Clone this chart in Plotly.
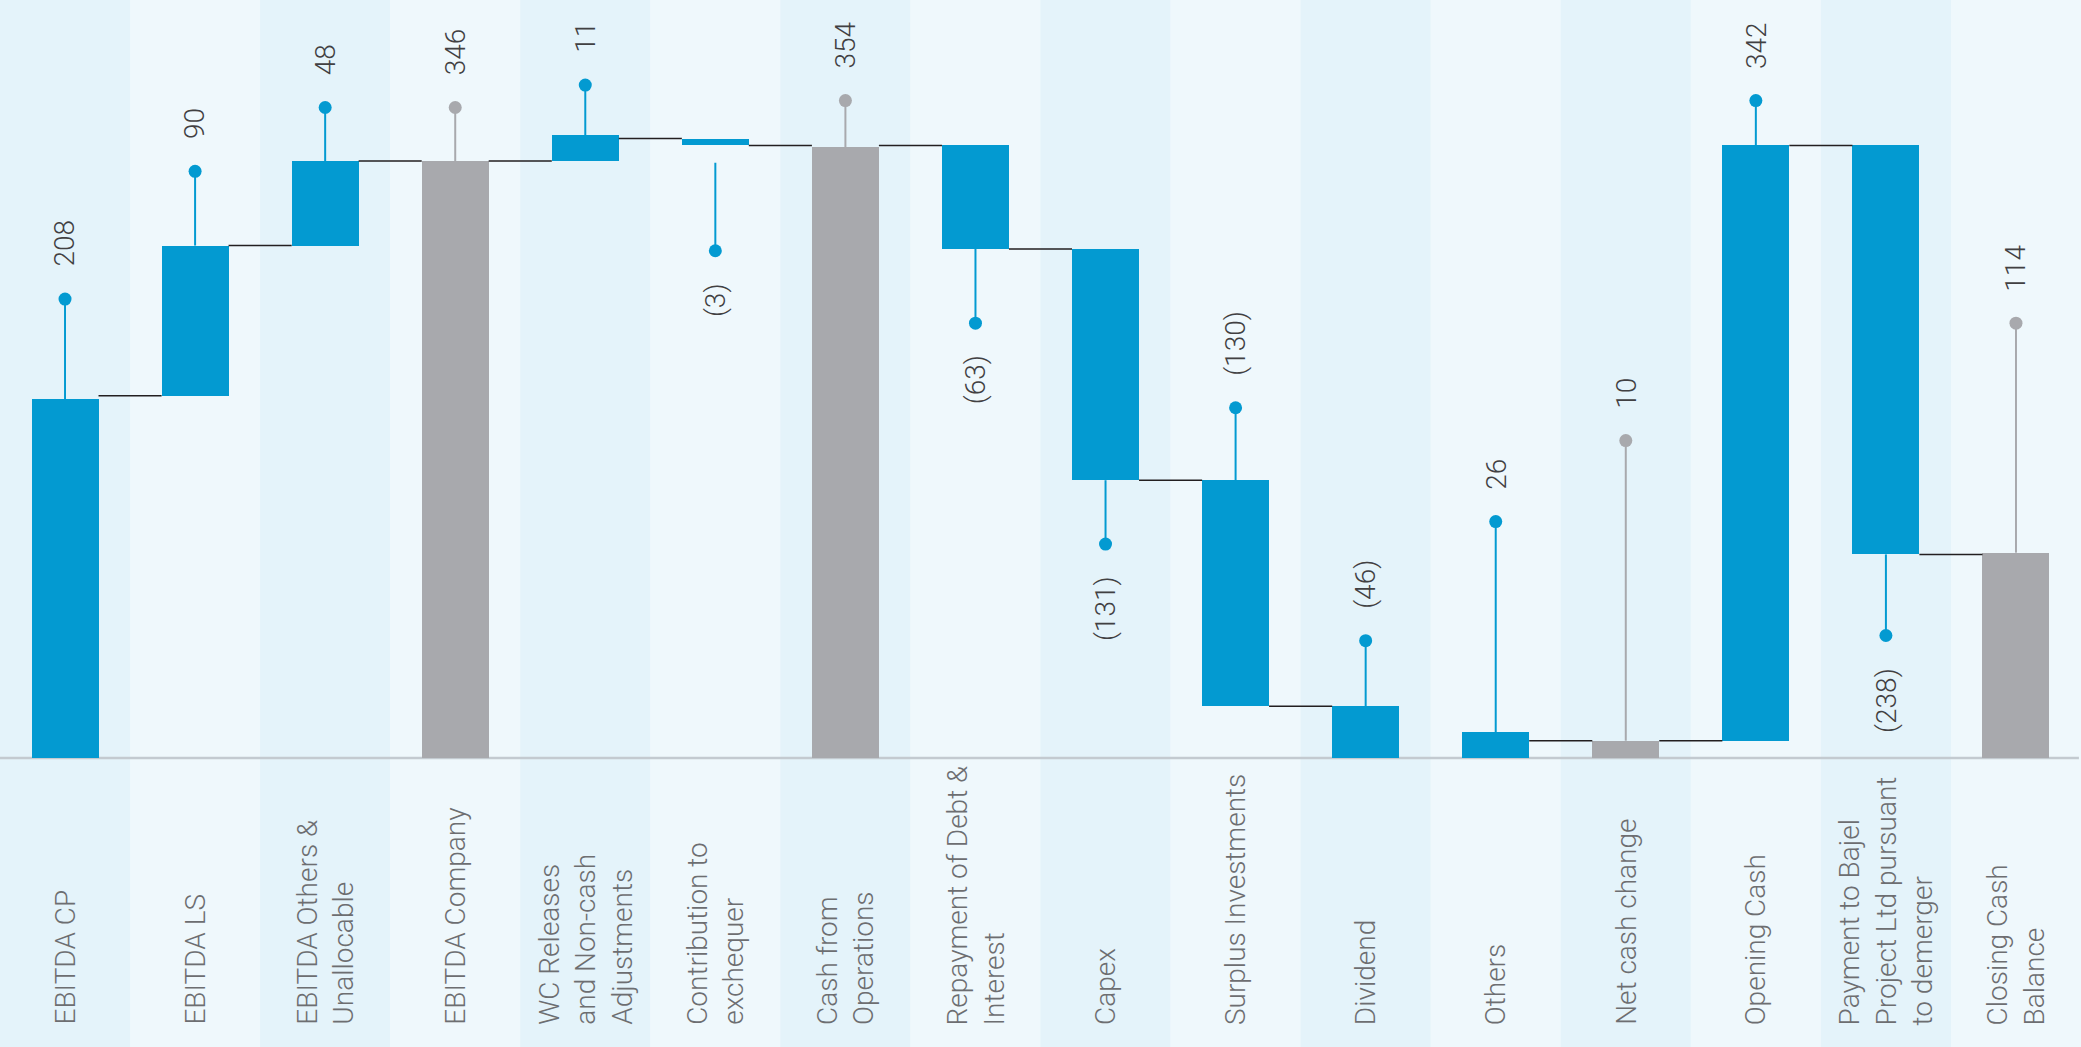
import plotly.graph_objects as go

# categories of the cash-flow bridge
categories = [
    "EBITDA CP", "EBITDA LS", "EBITDA Others &<br>Unallocable", "EBITDA Company",
    "WC Releases<br>and Non-cash<br>Adjustments", "Contribution to<br>exchequer",
    "Cash from<br>Operations", "Repayment of Debt &<br>Interest", "Capex",
    "Surplus Investments", "Dividend", "Others", "Net cash change",
    "Opening Cash", "Payment to Bajel<br>Project Ltd pursuant<br>to demerger",
    "Closing Cash<br>Balance",
]
value_labels = ["208", "90", "48", "346", "11", "(3)", "354", "(63)", "(131)",
                "(130)", "(46)", "26", "10", "342", "(238)", "114"]

# bar extents as drawn in the picture
bar_low = [0, 210, 297, 0, 346, 355, 0, 295, 161, 30, 0, 0, 0, 10, 118, 0]
bar_high = [208, 297, 346, 346, 361, 359, 354, 355, 295, 161, 30, 15, 10, 355, 355, 119]
is_total = [False, False, False, True, False, False, True, False, False,
            False, False, False, True, False, False, True]

# lollipop stems: start level, dot level, label above (True) or below (False)
stem_base = [208, 297, 346, 346, 361, 345, 354, 295, 161, 161, 30, 15, 10, 355, 118, 119]
dot_level = [266, 340, 377, 377, 390, 294, 381, 252, 124, 203, 68, 137, 184, 381, 71, 252]
label_up = [True, True, True, True, True, False, True, False, False,
            True, True, True, True, True, False, True]

# connector levels between neighbouring bars (None = no connector)
connectors = [210, 297, 346, 346, 359, 355, 355, 295, 161, 30, None, 10, 10, 355, 118]

BLUE = "#039AD1"
GREY = "#A8A9AD"
BAND_A = "#E4F3FA"
BAND_B = "#EFF8FC"

n = len(categories)
xs = list(range(n))
k = 1.7254  # px per unit
zero_px = 758
H = 1047
W = 2081

fig = go.Figure()

# alternating column bands
for i in xs:
    fig.add_shape(type="rect", xref="x", yref="paper", x0=i - 0.5, x1=i + 0.5, y0=0, y1=1,
                  fillcolor=BAND_A if i % 2 == 0 else BAND_B, line_width=0, layer="below")

fig.add_shape(type="line", xref="paper", yref="y", x0=0, x1=0.999, y0=0, y1=0,
              line=dict(color="#C3CAD0", width=2.5), layer="below")

colors = [GREY if t else BLUE for t in is_total]
fig.add_trace(go.Bar(
    x=xs, base=bar_low, y=[h - l for h, l in zip(bar_high, bar_low)],
    marker=dict(color=colors, line_width=0), width=0.515,
    hoverinfo="skip", showlegend=False,
))

# connectors
cx, cy = [], []
for i, lev in enumerate(connectors):
    if lev is None:
        continue
    cx += [i + 0.2575, i + 1 - 0.2575, None]
    cy += [lev, lev, None]
fig.add_trace(go.Scatter(x=cx, y=cy, mode="lines", line=dict(color="#231F20", width=1.5),
                         hoverinfo="skip", showlegend=False))

# stems and dots
for col, flag in [(BLUE, False), (GREY, True)]:
    sx, sy, dx, dy = [], [], [], []
    for i in xs:
        if is_total[i] != flag:
            continue
        sx += [i, i, None]
        sy += [stem_base[i], dot_level[i], None]
        dx.append(i)
        dy.append(dot_level[i])
    fig.add_trace(go.Scatter(x=sx, y=sy, mode="lines", line=dict(color=col, width=2),
                             hoverinfo="skip", showlegend=False))
    fig.add_trace(go.Scatter(x=dx, y=dy, mode="markers", marker=dict(color=col, size=13),
                             hoverinfo="skip", showlegend=False))

# value labels
for i in xs:
    fig.add_annotation(
        x=i, y=dot_level[i], xref="x", yref="y", text=value_labels[i], showarrow=False,
        textangle=-90, xanchor="center", yanchor="bottom" if label_up[i] else "top",
        yshift=30 if label_up[i] else -30,
        font=dict(family="Roboto", size=28, color="#414042", weight=300),
    )

# category labels
for i in xs:
    fig.add_annotation(
        x=i, y=(H - 1027) / H, xref="x", yref="paper", text=categories[i], showarrow=False,
        textangle=-90, xanchor="center", yanchor="bottom", align="left",
        font=dict(family="Roboto", size=28, color="#6D6E71", weight=300),
    )

fig.update_layout(
    width=W, height=H,
    margin=dict(l=0, r=0, t=0, b=0),
    plot_bgcolor=BAND_B, paper_bgcolor=BAND_B,
    bargap=0,
    xaxis=dict(range=[-0.5, n - 0.5], visible=False, fixedrange=True),
    yaxis=dict(range=[-(H - zero_px) / k, zero_px / k], visible=False, fixedrange=True),
    showlegend=False,
)

fig.write_html("out.html", config={"displayModeBar": False},
               post_script="document.body.style.margin='0';document.body.style.overflow='hidden';")
